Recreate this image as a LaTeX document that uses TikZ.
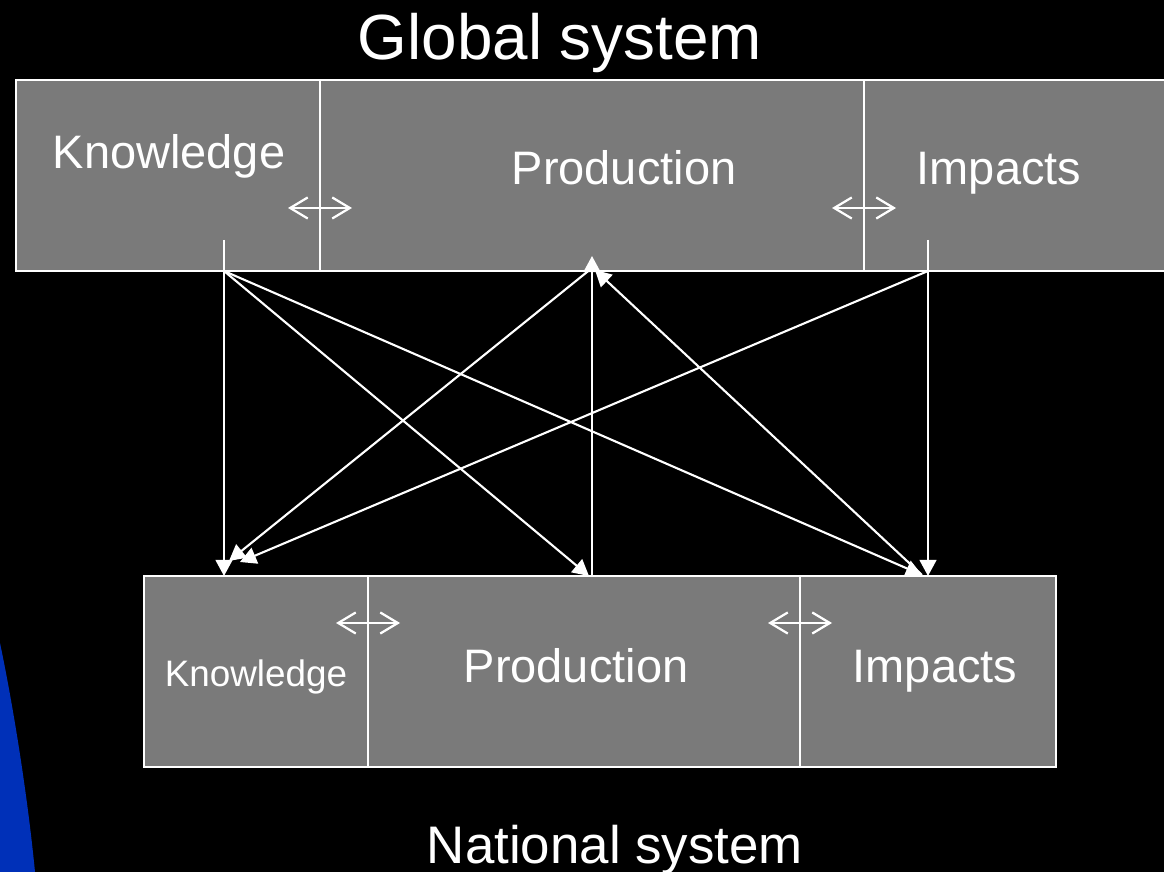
\documentclass[tikz,border=0pt]{standalone}
\usepackage{fontspec}
\setmainfont{Liberation Sans}
\usetikzlibrary{arrows.meta}
\definecolor{cellgray}{RGB}{122,122,122}
\definecolor{slideblue}{RGB}{0,48,184}

\begin{document}
\begin{tikzpicture}[x=0.025cm,y=-0.025cm]
	\tikzstyle{cell}=[fill=cellgray,draw=white,line width=1.5pt]
	\tikzstyle{bigtext}=[anchor=base,inner sep=0pt,text=white,font=\fontsize{33.4}{40}\selectfont]
	\tikzstyle{smalltext}=[anchor=base,inner sep=0pt,text=white,font=\fontsize{26.2}{31}\selectfont]
	\tikzstyle{flow}=[draw=white,line width=1.5pt,-{Triangle[length=11.5pt,width=12pt]}]
	\tikzstyle{trade}=[draw=white,line width=1.6pt,{Straight Barb[length=12.5pt,width=15pt]}-{Straight Barb[length=12.5pt,width=15pt]}]

	\fill[black] (0,0) rectangle (1164,872);
	\useasboundingbox (0,0) rectangle (1164,872);
	\fill[slideblue] (0,643) .. controls (12,700) and (27,790) .. (35,872) -- (0,872) -- cycle;

	% global system
	\draw[cell] (16,80) rectangle (320,271);
	\draw[cell] (320,80) rectangle (864,271);
	\draw[cell] (864,80) rectangle (1172,271);
	\node[bigtext, font=\fontsize{45.4}{54}\selectfont] (G) at (560,60) {Global system};
	\node[bigtext] (Kg) at (169,169) {Knowledge};
	\node[bigtext] (Pg) at (624,185) {Production};
	\node[bigtext] (Ig) at (999,185) {Impacts};

	% national system
	\draw[cell] (144,576) rectangle (368,767);
	\draw[cell] (368,576) rectangle (800,767);
	\draw[cell] (800,576) rectangle (1056,767);
	\node[bigtext, font=\fontsize{37.6}{45}\selectfont] (N) at (615,863) {National system};
	\node[smalltext] (Kn) at (256,686) {Knowledge};
	\node[bigtext] (Pn) at (576,682) {Production};
	\node[bigtext] (In) at (935,682) {Impacts};

	\coordinate (K1) at (224,240);
	\coordinate (K2) at (224,271);
	\coordinate (K3) at (224,576);
	\coordinate (K4) at (229,561);
	\coordinate (K5) at (240,562);
	\coordinate (P1) at (592,256);
	\coordinate (P2) at (592,268);
	\coordinate (P3) at (595,270);
	\coordinate (P4) at (592,576);
	\coordinate (P5) at (589,576);
	\coordinate (I1) at (928,240);
	\coordinate (I2) at (928,271);
	\coordinate (I3) at (928,576);
	\coordinate (I4) at (922,575);

	\coordinate (T1) at (288,208);
	\coordinate (T2) at (352,208);
	\coordinate (T3) at (832,208);
	\coordinate (T4) at (896,208);
	\coordinate (T5) at (336,623);
	\coordinate (T6) at (400,623);
	\coordinate (T7) at (768,623);
	\coordinate (T8) at (832,623);

	\draw[flow] (K1) -- (K3);
	\draw[flow] (K2) -- (P5);
	\draw[flow] (K2) -- (I4);

	\draw[flow] (P4) -- (P1);
	\draw[flow] (P2) -- (K4);
	\draw[flow,{Triangle[length=11.5pt,width=12pt]}-] (P3) -- (I4);

	\draw[flow] (I2) -- (K5);
	\draw[flow] (I1) -- (I3);

	\draw[trade] (T1) -- (T2);
	\draw[trade] (T3) -- (T4);
	\draw[trade] (T5) -- (T6);
	\draw[trade] (T7) -- (T8);
\end{tikzpicture}
\end{document}
